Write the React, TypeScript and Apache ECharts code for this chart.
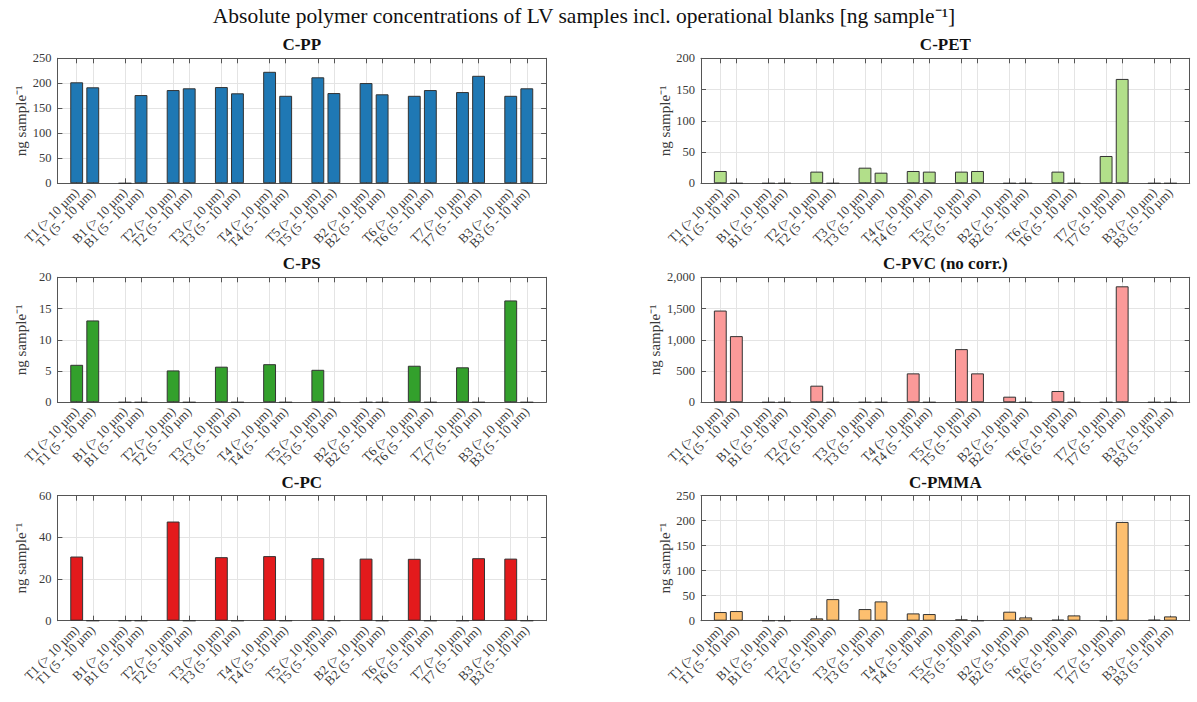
import { useEffect, useRef } from 'react';
import * as echarts from 'echarts';

// Sampling sites / blanks and the two size fractions measured for each
const samples = ['T1', 'B1', 'T2', 'T3', 'T4', 'T5', 'B2', 'T6', 'T7', 'B3'];
const fractions = ['(> 10 µm)', '(5 - 10 µm)'];
const categories = samples.flatMap((s) => fractions.map((f) => `${s} ${f}`));

// Absolute concentrations [ng sample^-1], in the order of `categories`
const ppValues = [202, 192, 0, 176.5, 186.5, 190, 192.5, 180, 223, 175, 212, 180.5, 200.5, 178, 175, 186.5, 182.5, 215, 175, 190];
const petValues = [19.7, 0, 0, 0, 18.7, 0, 25, 17, 19.7, 18.7, 18.7, 19.7, 0, 0, 18.7, 0, 43.7, 167, 0, 0];
const psValues = [6.0, 13.1, 0, 0, 5.1, 0, 5.7, 0, 6.1, 0, 5.2, 0, 0, 0, 5.85, 0, 5.6, 0, 16.3, 0];
const pvcValues = [1468, 1059, 0, 0, 266, 0, 0, 0, 463, 0, 851, 463, 90, 0, 181, 0, 0, 1856, 0, 0];
const pcValues = [30.8, 0, 0, 0, 47.6, 0, 30.5, 0, 31, 0, 30, 0, 29.8, 0, 29.7, 0, 0, 30, 29.8, 0];
const pmmaValues = [17.3, 19.3, 0, 0, 4.7, 43.2, 23.3, 38.6, 14.6, 13.3, 2.7, 0, 18, 6.6, 2, 10.6, 0, 197.5, 2, 8.6];

const panelTitles = ['C-PP', 'C-PET', 'C-PS', 'C-PVC (no corr.)', 'C-PC', 'C-PMMA'];
const panelValues = [ppValues, petValues, psValues, pvcValues, pcValues, pmmaValues];
const panelColors = ['#1f78b4', '#b2df8a', '#33a02c', '#fb9a99', '#e31a1c', '#fdbf6f'];
const panelMax = [250, 200, 20, 2000, 60, 250];
const panelStep = [50, 50, 5, 500, 20, 50];

const mainTitle = 'Absolute polymer concentrations of LV samples incl. operational blanks [ng sample⁻¹]';
const yName = 'ng sample⁻¹';

export default function App() {
  const ref = useRef<HTMLDivElement>(null);

  useEffect(() => {
    const chart = echarts.init(ref.current!, null, { renderer: 'svg' });
    const FONT = 'Liberation Serif';
    const TEXT = '#3a3a3a';
    const FRAME = '#555';
    const GRIDLINE = '#e4e4e4';

    const colLeft = [57.4, 701];
    const plotW = 488.7;
    const rowTop = [58.3, 277.3, 495.7];
    const plotH = 125;
    const xMin = -0.2;
    const xMax = 30.2;

    // pairs of bars per sample with an empty slot between samples
    const positions = categories.map((_, i) => Math.floor(i / 2) * 3 + (i % 2) + 1);
    const labelAt = new Map(positions.map((p, i) => [p, categories[i]]));
    const slotPx = plotW / (xMax - xMin);
    // blank labels at both axis ends absorb the min/max-label overlap handling
    const labelValues = [xMin, ...positions, xMax];

    const grids: any[] = [];
    const xAxes: any[] = [];
    const yAxes: any[] = [];
    const series: any[] = [];
    const titles: any[] = [
      {
        text: mainTitle,
        left: 584,
        top: 5,
        padding: 0,
        textAlign: 'center',
        textStyle: { fontFamily: FONT, fontSize: 21.5, fontWeight: 'normal', color: '#111' },
      },
    ];

    panelTitles.forEach((name, k) => {
      const row = Math.floor(k / 2);
      const col = k % 2;
      const left = colLeft[col];
      const top = rowTop[row];
      grids.push({ left, top, width: plotW, height: plotH, containLabel: false });
      titles.push({
        text: name,
        left: left + plotW / 2,
        top: top - 22,
        padding: 0,
        textAlign: 'center',
        textStyle: { fontFamily: FONT, fontSize: 17, fontWeight: 'bold', color: '#111' },
      });

      const baseX = {
        type: 'value',
        gridIndex: k,
        min: xMin,
        max: xMax,
        axisLine: { show: true, onZero: false, lineStyle: { color: FRAME, width: 1 } },
        axisTick: { show: true, inside: true, length: 5, customValues: positions, lineStyle: { color: FRAME } },
      };
      xAxes.push({
        ...baseX,
        position: 'bottom',
        splitLine: { show: true, lineStyle: { color: GRIDLINE, width: 1 } },
        axisLabel: {
          show: true,
          customValues: labelValues,
          showMinLabel: false,
          showMaxLabel: false,
          hideOverlap: false,
          rotate: 45,
          margin: 7,
          fontFamily: FONT,
          fontSize: 13,
          color: TEXT,
          formatter: (v: number) => labelAt.get(Math.round(v)) ?? '',
        },
      });
      xAxes.push({
        ...baseX,
        position: 'top',
        splitLine: { show: false },
        axisLabel: { show: false },
      });

      const baseY = {
        type: 'value',
        gridIndex: k,
        min: 0,
        max: panelMax[k],
        interval: panelStep[k],
        axisLine: { show: true, onZero: false, lineStyle: { color: FRAME, width: 1 } },
        axisTick: { show: true, inside: true, length: 5, lineStyle: { color: FRAME } },
      };
      yAxes.push({
        ...baseY,
        position: 'left',
        name: yName,
        nameLocation: 'middle',
        nameGap: 29,
        nameTextStyle: { fontFamily: FONT, fontSize: 15, color: TEXT },
        splitLine: { show: true, lineStyle: { color: GRIDLINE, width: 1 } },
        axisLabel: {
          show: true,
          margin: 6,
          fontFamily: FONT,
          fontSize: 12.5,
          color: TEXT,
          formatter: (v: number) => v.toLocaleString('en-US'),
        },
      });
      yAxes.push({
        ...baseY,
        position: 'right',
        splitLine: { show: false },
        axisLabel: { show: false },
      });

      series.push({
        type: 'bar',
        name,
        xAxisIndex: 2 * k,
        yAxisIndex: 2 * k,
        barWidth: slotPx * 0.8,
        data: panelValues[k].map((v, i) => [positions[i], v]),
        itemStyle: { color: panelColors[k], borderColor: '#333', borderWidth: 1 },
        emphasis: { disabled: true },
      });
    });

    chart.setOption({
      animation: false,
      backgroundColor: '#fff',
      title: titles,
      grid: grids,
      xAxis: xAxes,
      yAxis: yAxes,
      series,
    });

    return () => chart.dispose();
  }, []);

  return (
    <div
      ref={ref}
      style={{ position: 'fixed', left: 0, top: 0, width: '1197px', height: '702px', background: '#fff' }}
    />
  );
}
